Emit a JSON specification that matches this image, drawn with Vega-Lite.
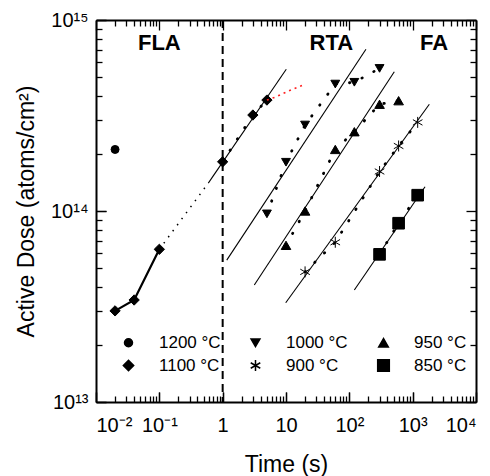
{
  "$schema": "https://vega.github.io/schema/vega-lite/v6.json",
  "autosize": "none",
  "padding": {"left": 96, "top": 20, "right": 14, "bottom": 74},
  "width": 380,
  "height": 382,
  "background": "white",
  "config": {
    "view": {"stroke": null},
    "font": "Liberation Sans",
    "axis": {"grid": false, "domainColor": "black", "tickColor": "black", "labelColor": "black", "titleColor": "black", "labelFont": "Liberation Sans", "titleFont": "Liberation Sans"}
  },
  "datasets": {
    "points": [
      {"series": "1200 °C", "t": 0.02, "dose": 2.1e14},
      {"series": "1100 °C", "t": 0.02, "dose": 3.0e13},
      {"series": "1100 °C", "t": 0.04, "dose": 3.42e13},
      {"series": "1100 °C", "t": 0.1, "dose": 6.3e13},
      {"series": "1100 °C", "t": 1, "dose": 1.81e14},
      {"series": "1100 °C", "t": 3, "dose": 3.18e14},
      {"series": "1100 °C", "t": 5, "dose": 3.81e14},
      {"series": "1000 °C", "t": 5, "dose": 9.66e13},
      {"series": "1000 °C", "t": 10, "dose": 1.80e14},
      {"series": "1000 °C", "t": 20, "dose": 2.82e14},
      {"series": "1000 °C", "t": 60, "dose": 4.62e14},
      {"series": "1000 °C", "t": 120, "dose": 4.72e14},
      {"series": "1000 °C", "t": 300, "dose": 5.58e14},
      {"series": "950 °C", "t": 10, "dose": 6.61e13},
      {"series": "950 °C", "t": 20, "dose": 1.0e14},
      {"series": "950 °C", "t": 60, "dose": 2.10e14},
      {"series": "950 °C", "t": 120, "dose": 2.60e14},
      {"series": "950 °C", "t": 300, "dose": 3.62e14},
      {"series": "950 °C", "t": 600, "dose": 3.78e14},
      {"series": "900 °C", "t": 20, "dose": 4.8e13},
      {"series": "900 °C", "t": 60, "dose": 6.86e13},
      {"series": "900 °C", "t": 300, "dose": 1.61e14},
      {"series": "900 °C", "t": 600, "dose": 2.19e14},
      {"series": "900 °C", "t": 1200, "dose": 2.91e14},
      {"series": "850 °C", "t": 300, "dose": 5.93e13},
      {"series": "850 °C", "t": 600, "dose": 8.63e13},
      {"series": "850 °C", "t": 1200, "dose": 1.21e14}
    ],
    "lines": [
      {"g": "f1100", "s": "fit", "t": 0.593, "dose": 1.40e14},
      {"g": "f1100", "s": "fit", "t": 10.1, "dose": 5.52e14},
      {"g": "f1000", "s": "fit", "t": 1.16, "dose": 5.53e13},
      {"g": "f1000", "s": "fit", "t": 183, "dose": 7.03e14},
      {"g": "f950", "s": "fit", "t": 3.16, "dose": 4.1e13},
      {"g": "f950", "s": "fit", "t": 513, "dose": 5.36e14},
      {"g": "f900", "s": "fit", "t": 9.9, "dose": 3.31e13},
      {"g": "f900", "s": "fit", "t": 1833, "dose": 3.62e14},
      {"g": "f850", "s": "fit", "t": 120, "dose": 3.86e13},
      {"g": "f850", "s": "fit", "t": 1567, "dose": 1.34e14},
      {"g": "ext", "s": "ext", "t": 0.1, "dose": 6.3e13},
      {"g": "ext", "s": "ext", "t": 0.593, "dose": 1.40e14},
      {"g": "red", "s": "red", "t": 5, "dose": 3.81e14},
      {"g": "red", "s": "red", "t": 6.7, "dose": 3.94e14},
      {"g": "red", "s": "red", "t": 10.5, "dose": 4.22e14},
      {"g": "red", "s": "red", "t": 18, "dose": 4.55e14}
    ],
    "regions": [
      {"label": "FLA", "t": 0.1, "dose": 6.97e14},
      {"label": "RTA", "t": 52, "dose": 6.97e14},
      {"label": "FA", "t": 2170, "dose": 6.97e14}
    ],
    "boundary": [{"t": 1}]
  },
  "resolve": {"axis": {"x": "independent", "y": "independent"}},
  "layer": [
    {
      "data": {"name": "lines"},
      "transform": [{"filter": "datum.s == 'fit'"}],
      "mark": {"type": "line", "color": "black", "strokeWidth": 1.1},
      "encoding": {
        "x": {"field": "t", "type": "quantitative", "scale": {"type": "log", "domain": [0.01, 10000], "nice": false},
          "axis": {"orient": "top", "title": null, "labels": false, "domainWidth": 2, "tickWidth": 1.3,
            "tickSize": {"condition": {"test": "datum.value==0.01||datum.value==0.1||datum.value==1||datum.value==10||datum.value==100||datum.value==1000||datum.value==10000", "value": -10}, "value": -6},
            "values": [0.01,0.02,0.03,0.04,0.05,0.06,0.07,0.08,0.09,0.1,0.2,0.3,0.4,0.5,0.6,0.7,0.8,0.9,1,2,3,4,5,6,7,8,9,10,20,30,40,50,60,70,80,90,100,200,300,400,500,600,700,800,900,1000,2000,3000,4000,5000,6000,7000,8000,9000,10000]}},
        "y": {"field": "dose", "type": "quantitative", "scale": {"type": "log", "domain": [1e13, 1e15], "nice": false},
          "axis": {"orient": "right", "title": null, "labels": false, "domainWidth": 2, "tickWidth": 1.3,
            "tickSize": {"condition": {"test": "datum.value==1e13||datum.value==1e14||datum.value==1e15", "value": -10}, "value": -6},
            "values": [1e13,2e13,3e13,4e13,5e13,6e13,7e13,8e13,9e13,1e14,2e14,3e14,4e14,5e14,6e14,7e14,8e14,9e14,1e15]}},
        "detail": {"field": "g"}
      }
    },
    {
      "data": {"name": "points"},
      "transform": [{"filter": "datum.series == '1100 °C' && datum.t <= 0.1"}],
      "mark": {"type": "line", "color": "black", "strokeWidth": 2.2},
      "encoding": {
        "x": {"field": "t", "type": "quantitative",
          "axis": {"orient": "bottom", "title": null, "labels": false, "domain": false, "tickWidth": 1.3,
            "tickSize": {"condition": {"test": "datum.value==0.01||datum.value==0.1||datum.value==1||datum.value==10||datum.value==100||datum.value==1000||datum.value==10000", "value": -10}, "value": -6},
            "values": [0.01,0.02,0.03,0.04,0.05,0.06,0.07,0.08,0.09,0.1,0.2,0.3,0.4,0.5,0.6,0.7,0.8,0.9,1,2,3,4,5,6,7,8,9,10,20,30,40,50,60,70,80,90,100,200,300,400,500,600,700,800,900,1000,2000,3000,4000,5000,6000,7000,8000,9000,10000]}},
        "y": {"field": "dose", "type": "quantitative",
          "axis": {"orient": "left", "title": null, "labels": false, "domain": false, "tickWidth": 1.3,
            "tickSize": {"condition": {"test": "datum.value==1e13||datum.value==1e14||datum.value==1e15", "value": -10}, "value": -6},
            "values": [1e13,2e13,3e13,4e13,5e13,6e13,7e13,8e13,9e13,1e14,2e14,3e14,4e14,5e14,6e14,7e14,8e14,9e14,1e15]}}
      }
    },
    {
      "data": {"name": "points"},
      "mark": {"type": "point", "filled": true, "opacity": 1, "color": "black", "stroke": "black", "strokeWidth": 1},
      "encoding": {
        "x": {"field": "t", "type": "quantitative",
          "axis": {"orient": "bottom", "title": "Time (s)", "titleFontSize": 23, "titleFontWeight": "normal", "titleX": 190, "titleY": 69, "titleBaseline": "alphabetic",
            "labelFontSize": 20, "labelPadding": 23.5, "domainWidth": 2, "tickWidth": 1.3, "tickSize": -10,
            "values": [0.01, 0.1, 1, 10, 100, 1000, 10000],
            "labelExpr": "datum.value == 0.01 ? '10⁻²' : datum.value == 0.1 ? '10⁻¹' : datum.value == 1 ? '1' : datum.value == 10 ? '10' : datum.value == 100 ? '10²' : datum.value == 1000 ? '10³' : datum.value == 10000 ? '10⁴' : ''"}},
        "y": {"field": "dose", "type": "quantitative",
          "axis": {"orient": "left", "title": "Active Dose (atoms/cm²)", "titleFontSize": 23, "titleFontWeight": "normal", "titleX": -63, "titleY": 191, "titleAngle": -90, "titleBaseline": "alphabetic",
            "labelFontSize": 20, "labelPadding": 18, "domainWidth": 2, "tickWidth": 1.3, "tickSize": -10,
            "values": [1e13, 1e14, 1e15],
            "labelExpr": "datum.value == 1e13 ? '10¹³' : datum.value == 1e14 ? '10¹⁴' : datum.value == 1e15 ? '10¹⁵' : ''"}},
        "shape": {"field": "series", "type": "nominal",
          "scale": {"domain": ["1200 °C", "1000 °C", "950 °C", "1100 °C", "900 °C", "850 °C"],
            "range": ["circle", "triangle-down", "triangle-up", "diamond", "M0,-1L0,1M-0.87,-0.5L0.87,0.5M-0.87,0.5L0.87,-0.5", "square"]},
          "legend": {"title": null, "orient": "none", "legendX": 24, "legendY": 314, "columns": 3, "direction": "horizontal",
            "labelFontSize": 17, "labelFont": "Liberation Sans", "labelColor": "black", "labelOffset": 22, "columnPadding": 26, "rowPadding": 5,
            "encode": {"symbols": {"update": {"stroke": {"value": "black"}, "fill": {"value": "black"}, "strokeWidth": {"value": 1.1}, "opacity": {"value": 1}}}}}},
        "size": {"field": "series", "type": "nominal",
          "scale": {"domain": ["1200 °C", "1000 °C", "950 °C", "1100 °C", "900 °C", "850 °C"], "range": [64, 135, 135, 130, 150, 64]},
          "legend": {"title": null, "orient": "none", "legendX": 24, "legendY": 314, "columns": 3, "direction": "horizontal",
            "labelFontSize": 17, "labelFont": "Liberation Sans", "labelColor": "black", "labelOffset": 22, "columnPadding": 26, "rowPadding": 5,
            "encode": {"symbols": {"update": {"stroke": {"value": "black"}, "fill": {"value": "black"}, "strokeWidth": {"value": 1.1}, "opacity": {"value": 1}}}}}}
      }
    },
    {
      "data": {"name": "boundary"},
      "mark": {"type": "rule", "color": "black", "strokeWidth": 2, "strokeDash": [8, 5]},
      "encoding": {
        "x": {"field": "t", "type": "quantitative", "axis": null}
      }
    },
    {
      "data": {"name": "lines"},
      "transform": [{"filter": "datum.s == 'ext'"}],
      "mark": {"type": "line", "color": "black", "strokeWidth": 1.5, "strokeDash": [1.5, 6]},
      "encoding": {
        "x": {"field": "t", "type": "quantitative", "axis": null},
        "y": {"field": "dose", "type": "quantitative", "axis": null}
      }
    },
    {
      "data": {"name": "points"},
      "transform": [{"filter": "datum.series != '1200 °C' && datum.t >= 1"}],
      "mark": {"type": "line", "color": "black", "strokeWidth": 2.8, "strokeDash": [0.5, 13], "strokeCap": "round"},
      "encoding": {
        "x": {"field": "t", "type": "quantitative", "axis": null},
        "y": {"field": "dose", "type": "quantitative", "axis": null},
        "detail": {"field": "series"}
      }
    },
    {
      "data": {"name": "lines"},
      "transform": [{"filter": "datum.s == 'red'"}],
      "mark": {"type": "line", "color": "#ff2020", "strokeWidth": 1.6, "strokeDash": [2, 4]},
      "encoding": {
        "x": {"field": "t", "type": "quantitative", "axis": null},
        "y": {"field": "dose", "type": "quantitative", "axis": null}
      }
    },
    {
      "data": {"name": "regions"},
      "mark": {"type": "text", "font": "Liberation Sans", "fontSize": 22, "fontWeight": "bold", "align": "center", "baseline": "alphabetic", "color": "black"},
      "encoding": {
        "x": {"field": "t", "type": "quantitative", "axis": null},
        "y": {"field": "dose", "type": "quantitative", "axis": null},
        "text": {"field": "label"}
      }
    }
  ]
}
